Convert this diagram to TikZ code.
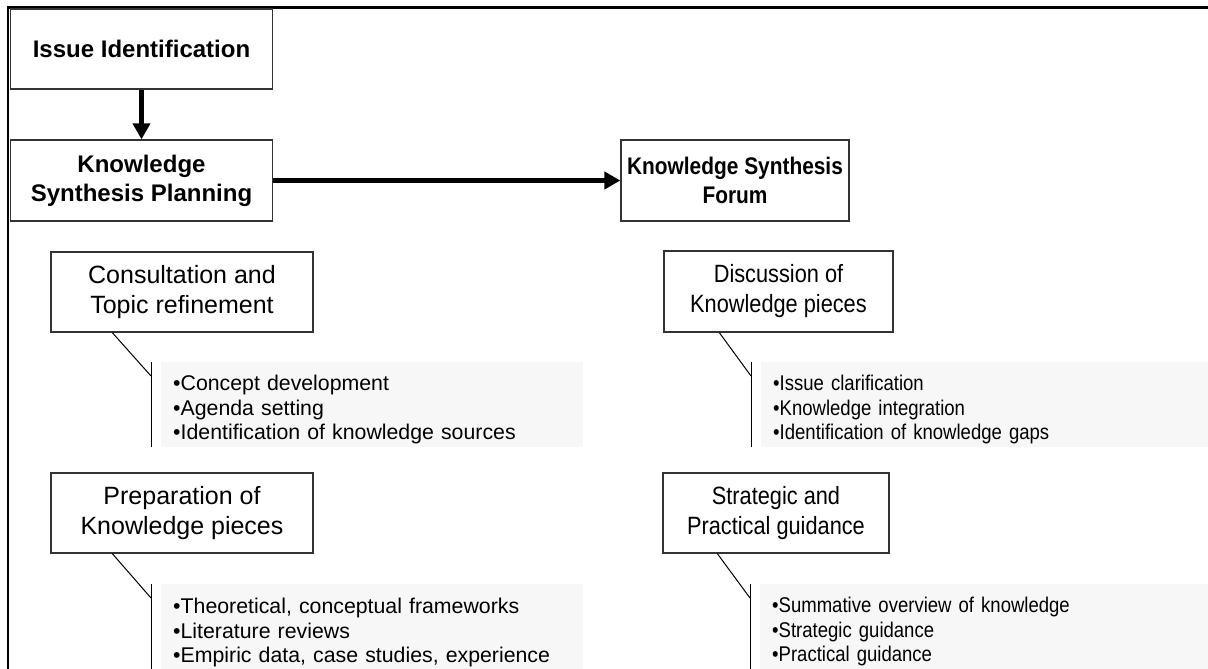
\documentclass[tikz,border=0pt]{standalone}
\usepackage{fontspec}
\setmainfont{Liberation Sans}
\newfontfamily\narrowsans[FakeStretch=0.87]{Liberation Sans}
\usetikzlibrary{arrows.meta}

\begin{document}
\begin{tikzpicture}
	[x=1pt,y=-1pt,
	box/.style={rectangle,draw=black!80,line width=1.3pt,align=center,inner sep=0pt},
	head/.style={box,font=\fontsize{24}{29}\selectfont\bfseries},
	task/.style={box,font=\fontsize{25}{30}\selectfont},
	bullets/.style={anchor=north west,fill=black!3,align=left,inner xsep=12pt,inner ysep=2.5pt,font=\fontsize{21.3}{24.5}\selectfont},
	flow/.style={line width=5pt,-{Triangle[length=16pt,width=17pt]}},
	callout/.style={line width=1pt}]
	\clip (0,0) rectangle (1208,669);
	\draw [line width=2.4pt] (8,669) -- (8,7.5) -- (1208,7.5);
	% planning side
	\node (issue) [head,minimum width=262pt,minimum height=80pt] at (141.5,49) {Issue Identification};
	\node (plan) [head,minimum width=262pt,minimum height=81pt] at (141.5,180.5) {Knowledge\\Synthesis Planning};
	\node (cons) [task,minimum width=262pt,minimum height=80pt] at (182,292) {Consultation and\\Topic refinement};
	\node (prep) [task,minimum width=262pt,minimum height=80pt] at (182,513) {Preparation of\\Knowledge pieces};
	\node (sub1) [bullets,text width=398pt] at (161,362) {\rule{0pt}{26pt}•Concept development\\•Agenda setting\\•Identification of knowledge sources};
	\node (sub2) [bullets,text width=398pt] at (161,584) {\rule{0pt}{27pt}•Theoretical, conceptual frameworks\\•Literature reviews\\•Empiric data, case studies, experience};
	% forum side
	\node (forum) [head,font=\narrowsans\fontsize{24}{29}\selectfont\bfseries,minimum width=228pt,minimum height=81pt] at (735,180.5) {Knowledge Synthesis\\Forum};
	\node (disc) [task,font=\narrowsans\fontsize{25}{30}\selectfont,minimum width=229pt,minimum height=81pt] at (778.5,291.5) {Discussion of\\Knowledge pieces};
	\node (strat) [task,font=\narrowsans\fontsize{25}{30}\selectfont,minimum width=226pt,minimum height=80pt] at (776,513) {Strategic and\\Practical guidance};
	\node (sub3) [bullets,font=\narrowsans\fontsize{21.3}{24.5}\selectfont,text width=460pt] at (761,362) {\rule{0pt}{26pt}•Issue clarification\\•Knowledge integration\\•Identification of knowledge gaps};
	\node (sub4) [bullets,font=\narrowsans\fontsize{21.3}{24.5}\selectfont,text width=460pt] at (760,584) {\rule{0pt}{26pt}•Summative overview of knowledge\\•Strategic guidance\\•Practical guidance};
	\draw [flow] (issue) -- (plan);
	\draw [flow] (plan) -- (forum);
	\foreach \s/\t/\d in {sub1/cons/62,sub2/prep/62,sub3/disc/56,sub4/strat/55} {
		\draw [callout] ([xshift=-10pt]\s.north west) -- ([xshift=-10pt]\s.south west);
		\draw [callout] ([xshift=\d pt]\t.south west) -- ([xshift=-10pt,yshift=-14pt]\s.north west);
	}
\end{tikzpicture}
\end{document}
